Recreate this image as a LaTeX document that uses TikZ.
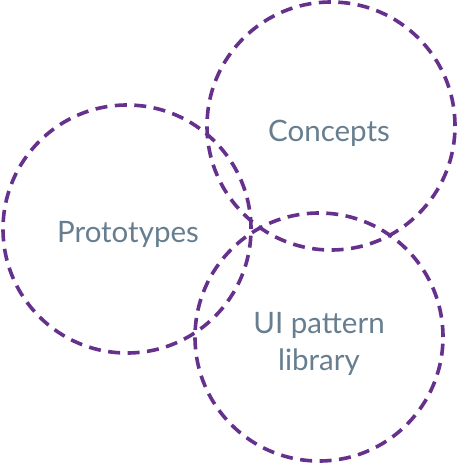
\documentclass[tikz,border=0pt]{standalone}
\usepackage{fontspec}
\setmainfont{Lato}
\usetikzlibrary{positioning}

\definecolor{ringpurple}{HTML}{66318C}
\definecolor{labelgrey}{HTML}{667E8F}

\tikzset{
    ring/.style={draw=ringpurple, line width=3.6pt, dash pattern=on 12pt off 7.5pt, circle, minimum size=248pt, inner sep=0pt},
    ringlabel/.style={text=labelgrey, font=\fontsize{29.5}{37}\selectfont, align=center, anchor=base}
}

\begin{document}
\begin{tikzpicture}[x=1pt, y=-1pt]

    \useasboundingbox (0,0) rectangle (458,464);

    \node [ring] (concepts) at (331,126) {};
    \node [ring] (prototypes) at (127,229) {};
    \node [ring] (patterns) at (319,337) {};

    \node [ringlabel] (conceptstext) at (329,141) {Concepts};
    \node [ringlabel] (prototypestext) at (128,242) {Prototypes};
    \node [ringlabel] (patternstext) at (319,370) {UI pattern\\library};

\end{tikzpicture}
\end{document}
